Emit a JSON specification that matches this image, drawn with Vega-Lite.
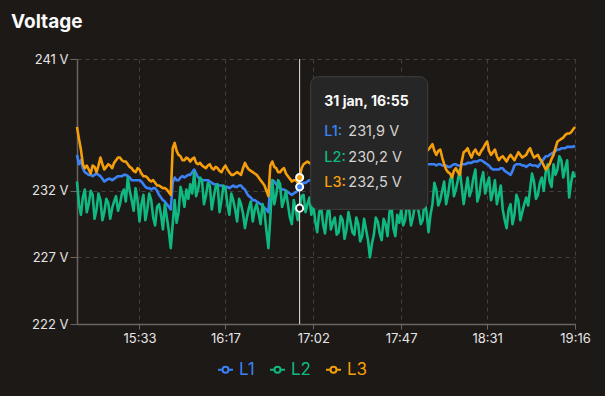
{
  "$schema": "https://vega.github.io/schema/vega-lite/v6.json",
  "width": 498,
  "height": 265,
  "autosize": {"type": "none"},
  "padding": {"left": 77, "top": 59, "right": 30, "bottom": 72},
  "background": "#1c1917",
  "title": {"text": "Voltage", "anchor": "start", "frame": "group", "dx": -66, "offset": 21, "fontSize": 19, "fontWeight": "bold", "color": "#fafafa", "font": "Inter"},
  "config": {"view": {"stroke": null}, "font": "Inter"},
  "datasets": {
    "volt": [
      {"t":"2024-01-31T15:01","L1":234.7,"L2":232.7,"L3":236.8},
      {"t":"2024-01-31T15:02","L1":234.0,"L2":231.0,"L3":235.9},
      {"t":"2024-01-31T15:03","L1":234.3,"L2":230.2,"L3":235.1},
      {"t":"2024-01-31T15:04","L1":233.7,"L2":231.5,"L3":234.0},
      {"t":"2024-01-31T15:05","L1":233.4,"L2":232.1,"L3":233.7},
      {"t":"2024-01-31T15:06","L1":233.3,"L2":230.4,"L3":233.9},
      {"t":"2024-01-31T15:07","L1":233.2,"L2":231.0,"L3":233.6},
      {"t":"2024-01-31T15:08","L1":233.2,"L2":232.0,"L3":233.3},
      {"t":"2024-01-31T15:09","L1":233.1,"L2":231.7,"L3":233.9},
      {"t":"2024-01-31T15:10","L1":233.2,"L2":229.9,"L3":233.8},
      {"t":"2024-01-31T15:11","L1":233.3,"L2":230.6,"L3":233.4},
      {"t":"2024-01-31T15:12","L1":233.2,"L2":231.8,"L3":233.9},
      {"t":"2024-01-31T15:13","L1":233.1,"L2":231.3,"L3":234.5},
      {"t":"2024-01-31T15:14","L1":232.9,"L2":229.8,"L3":234.0},
      {"t":"2024-01-31T15:15","L1":232.7,"L2":230.4,"L3":233.6},
      {"t":"2024-01-31T15:16","L1":232.8,"L2":231.4,"L3":233.8},
      {"t":"2024-01-31T15:17","L1":232.9,"L2":231.1,"L3":234.0},
      {"t":"2024-01-31T15:18","L1":232.9,"L2":229.9,"L3":233.9},
      {"t":"2024-01-31T15:19","L1":232.8,"L2":230.7,"L3":233.7},
      {"t":"2024-01-31T15:20","L1":232.9,"L2":231.2,"L3":234.1},
      {"t":"2024-01-31T15:21","L1":233.0,"L2":231.6,"L3":234.3},
      {"t":"2024-01-31T15:22","L1":233.1,"L2":230.5,"L3":234.5},
      {"t":"2024-01-31T15:23","L1":233.1,"L2":231.0,"L3":234.5},
      {"t":"2024-01-31T15:24","L1":233.1,"L2":231.8,"L3":234.3},
      {"t":"2024-01-31T15:25","L1":233.2,"L2":232.1,"L3":234.2},
      {"t":"2024-01-31T15:26","L1":233.2,"L2":231.2,"L3":234.2},
      {"t":"2024-01-31T15:27","L1":233.1,"L2":233.0,"L3":234.0},
      {"t":"2024-01-31T15:28","L1":233.0,"L2":232.0,"L3":233.8},
      {"t":"2024-01-31T15:29","L1":232.8,"L2":231.3,"L3":233.7},
      {"t":"2024-01-31T15:30","L1":232.8,"L2":230.5,"L3":233.5},
      {"t":"2024-01-31T15:31","L1":232.8,"L2":232.2,"L3":233.4},
      {"t":"2024-01-31T15:32","L1":232.8,"L2":231.3,"L3":233.7},
      {"t":"2024-01-31T15:33","L1":232.8,"L2":229.7,"L3":233.6},
      {"t":"2024-01-31T15:34","L1":232.7,"L2":231.0,"L3":233.3},
      {"t":"2024-01-31T15:35","L1":232.5,"L2":231.7,"L3":233.1},
      {"t":"2024-01-31T15:36","L1":232.3,"L2":229.8,"L3":233.1},
      {"t":"2024-01-31T15:37","L1":232.2,"L2":230.6,"L3":233.0},
      {"t":"2024-01-31T15:38","L1":232.2,"L2":231.8,"L3":232.8},
      {"t":"2024-01-31T15:39","L1":232.1,"L2":231.3,"L3":232.7},
      {"t":"2024-01-31T15:40","L1":232.2,"L2":230.0,"L3":232.8},
      {"t":"2024-01-31T15:41","L1":232.2,"L2":229.4,"L3":232.6},
      {"t":"2024-01-31T15:42","L1":232.0,"L2":230.8,"L3":232.4},
      {"t":"2024-01-31T15:43","L1":231.7,"L2":231.0,"L3":232.4},
      {"t":"2024-01-31T15:44","L1":231.5,"L2":230.2,"L3":232.3},
      {"t":"2024-01-31T15:45","L1":231.3,"L2":229.1,"L3":232.2},
      {"t":"2024-01-31T15:46","L1":231.2,"L2":231.0,"L3":232.2},
      {"t":"2024-01-31T15:47","L1":231.0,"L2":230.0,"L3":232.1},
      {"t":"2024-01-31T15:48","L1":230.8,"L2":229.0,"L3":231.9},
      {"t":"2024-01-31T15:49","L1":230.6,"L2":227.7,"L3":231.7},
      {"t":"2024-01-31T15:50","L1":232.6,"L2":229.5,"L3":235.2},
      {"t":"2024-01-31T15:51","L1":233.0,"L2":231.3,"L3":235.6},
      {"t":"2024-01-31T15:52","L1":232.8,"L2":229.6,"L3":235.0},
      {"t":"2024-01-31T15:53","L1":232.8,"L2":230.4,"L3":234.7},
      {"t":"2024-01-31T15:54","L1":233.0,"L2":232.3,"L3":234.6},
      {"t":"2024-01-31T15:55","L1":233.1,"L2":231.7,"L3":234.3},
      {"t":"2024-01-31T15:56","L1":233.0,"L2":230.8,"L3":234.3},
      {"t":"2024-01-31T15:57","L1":233.1,"L2":232.1,"L3":234.5},
      {"t":"2024-01-31T15:58","L1":233.2,"L2":231.4,"L3":234.4},
      {"t":"2024-01-31T15:59","L1":233.2,"L2":232.5,"L3":234.2},
      {"t":"2024-01-31T16:00","L1":233.4,"L2":231.8,"L3":234.4},
      {"t":"2024-01-31T16:01","L1":233.6,"L2":233.4,"L3":234.5},
      {"t":"2024-01-31T16:02","L1":233.3,"L2":231.6,"L3":234.1},
      {"t":"2024-01-31T16:03","L1":233.0,"L2":232.1,"L3":234.0},
      {"t":"2024-01-31T16:04","L1":232.9,"L2":233.0,"L3":234.1},
      {"t":"2024-01-31T16:05","L1":232.8,"L2":232.8,"L3":233.9},
      {"t":"2024-01-31T16:06","L1":232.8,"L2":231.0,"L3":233.8},
      {"t":"2024-01-31T16:07","L1":232.8,"L2":231.6,"L3":233.7},
      {"t":"2024-01-31T16:08","L1":232.8,"L2":232.6,"L3":233.9},
      {"t":"2024-01-31T16:09","L1":232.7,"L2":232.4,"L3":234.0},
      {"t":"2024-01-31T16:10","L1":232.6,"L2":230.6,"L3":233.7},
      {"t":"2024-01-31T16:11","L1":232.5,"L2":231.5,"L3":233.6},
      {"t":"2024-01-31T16:12","L1":232.5,"L2":232.3,"L3":233.8},
      {"t":"2024-01-31T16:13","L1":232.4,"L2":232.5,"L3":233.7},
      {"t":"2024-01-31T16:14","L1":232.4,"L2":230.4,"L3":233.5},
      {"t":"2024-01-31T16:15","L1":232.4,"L2":231.3,"L3":233.4},
      {"t":"2024-01-31T16:16","L1":232.3,"L2":232.4,"L3":233.7},
      {"t":"2024-01-31T16:17","L1":232.3,"L2":232.2,"L3":233.9},
      {"t":"2024-01-31T16:18","L1":232.3,"L2":231.0,"L3":233.6},
      {"t":"2024-01-31T16:19","L1":232.2,"L2":230.2,"L3":233.4},
      {"t":"2024-01-31T16:20","L1":232.3,"L2":231.8,"L3":233.2},
      {"t":"2024-01-31T16:21","L1":232.4,"L2":231.3,"L3":233.2},
      {"t":"2024-01-31T16:22","L1":232.3,"L2":230.6,"L3":233.3},
      {"t":"2024-01-31T16:23","L1":232.3,"L2":229.7,"L3":233.4},
      {"t":"2024-01-31T16:24","L1":232.4,"L2":231.4,"L3":233.3},
      {"t":"2024-01-31T16:25","L1":232.4,"L2":231.0,"L3":233.2},
      {"t":"2024-01-31T16:26","L1":232.2,"L2":230.3,"L3":233.7},
      {"t":"2024-01-31T16:27","L1":232.1,"L2":229.2,"L3":234.1},
      {"t":"2024-01-31T16:28","L1":231.8,"L2":230.0,"L3":233.8},
      {"t":"2024-01-31T16:29","L1":231.6,"L2":230.7,"L3":233.6},
      {"t":"2024-01-31T16:30","L1":231.5,"L2":231.2,"L3":233.5},
      {"t":"2024-01-31T16:31","L1":231.3,"L2":229.7,"L3":233.4},
      {"t":"2024-01-31T16:32","L1":231.3,"L2":230.6,"L3":233.3},
      {"t":"2024-01-31T16:33","L1":231.2,"L2":231.0,"L3":233.2},
      {"t":"2024-01-31T16:34","L1":231.1,"L2":230.3,"L3":233.0},
      {"t":"2024-01-31T16:35","L1":231.0,"L2":229.5,"L3":232.8},
      {"t":"2024-01-31T16:36","L1":230.9,"L2":231.0,"L3":232.6},
      {"t":"2024-01-31T16:37","L1":230.7,"L2":230.4,"L3":232.4},
      {"t":"2024-01-31T16:38","L1":230.6,"L2":229.0,"L3":232.0},
      {"t":"2024-01-31T16:39","L1":230.4,"L2":227.7,"L3":231.6},
      {"t":"2024-01-31T16:40","L1":232.5,"L2":230.0,"L3":233.9},
      {"t":"2024-01-31T16:41","L1":232.8,"L2":232.8,"L3":234.2},
      {"t":"2024-01-31T16:42","L1":232.7,"L2":231.0,"L3":233.8},
      {"t":"2024-01-31T16:43","L1":232.5,"L2":231.7,"L3":233.7},
      {"t":"2024-01-31T16:44","L1":232.3,"L2":232.8,"L3":233.4},
      {"t":"2024-01-31T16:45","L1":232.2,"L2":232.5,"L3":233.4},
      {"t":"2024-01-31T16:46","L1":232.1,"L2":230.8,"L3":233.6},
      {"t":"2024-01-31T16:47","L1":232.1,"L2":231.3,"L3":233.7},
      {"t":"2024-01-31T16:48","L1":232.0,"L2":232.0,"L3":233.3},
      {"t":"2024-01-31T16:49","L1":231.9,"L2":231.0,"L3":233.1},
      {"t":"2024-01-31T16:50","L1":231.8,"L2":230.0,"L3":232.9},
      {"t":"2024-01-31T16:51","L1":231.7,"L2":229.5,"L3":232.7},
      {"t":"2024-01-31T16:52","L1":231.8,"L2":231.3,"L3":232.8},
      {"t":"2024-01-31T16:53","L1":231.9,"L2":230.6,"L3":232.8},
      {"t":"2024-01-31T16:54","L1":232.0,"L2":229.8,"L3":232.6},
      {"t":"2024-01-31T16:55","L1":232.3,"L2":230.7,"L3":233.0},
      {"t":"2024-01-31T16:56","L1":232.5,"L2":231.6,"L3":233.7},
      {"t":"2024-01-31T16:57","L1":232.6,"L2":231.7,"L3":234.0},
      {"t":"2024-01-31T16:58","L1":232.6,"L2":230.4,"L3":234.1},
      {"t":"2024-01-31T16:59","L1":232.7,"L2":231.0,"L3":234.2},
      {"t":"2024-01-31T17:00","L1":232.8,"L2":231.5,"L3":234.1},
      {"t":"2024-01-31T17:01","L1":232.8,"L2":230.2,"L3":234.0},
      {"t":"2024-01-31T17:02","L1":232.8,"L2":231.0,"L3":234.0},
      {"t":"2024-01-31T17:03","L1":232.8,"L2":229.7,"L3":234.1},
      {"t":"2024-01-31T17:04","L1":232.8,"L2":228.9,"L3":234.0},
      {"t":"2024-01-31T17:05","L1":232.8,"L2":230.4,"L3":233.9},
      {"t":"2024-01-31T17:06","L1":232.8,"L2":230.8,"L3":233.9},
      {"t":"2024-01-31T17:07","L1":232.8,"L2":229.5,"L3":234.0},
      {"t":"2024-01-31T17:08","L1":232.7,"L2":228.8,"L3":233.8},
      {"t":"2024-01-31T17:09","L1":232.7,"L2":230.2,"L3":233.7},
      {"t":"2024-01-31T17:10","L1":232.8,"L2":230.9,"L3":233.9},
      {"t":"2024-01-31T17:11","L1":232.8,"L2":229.1,"L3":234.0},
      {"t":"2024-01-31T17:12","L1":232.8,"L2":229.6,"L3":233.9},
      {"t":"2024-01-31T17:13","L1":232.8,"L2":230.0,"L3":233.8},
      {"t":"2024-01-31T17:14","L1":232.9,"L2":228.7,"L3":233.9},
      {"t":"2024-01-31T17:15","L1":232.9,"L2":228.9,"L3":234.0},
      {"t":"2024-01-31T17:16","L1":232.9,"L2":230.1,"L3":234.0},
      {"t":"2024-01-31T17:17","L1":232.8,"L2":229.8,"L3":233.9},
      {"t":"2024-01-31T17:18","L1":232.8,"L2":228.4,"L3":233.8},
      {"t":"2024-01-31T17:19","L1":232.8,"L2":229.1,"L3":233.7},
      {"t":"2024-01-31T17:20","L1":232.8,"L2":230.4,"L3":233.9},
      {"t":"2024-01-31T17:21","L1":232.8,"L2":229.7,"L3":234.0},
      {"t":"2024-01-31T17:22","L1":232.8,"L2":228.9,"L3":233.9},
      {"t":"2024-01-31T17:23","L1":232.8,"L2":228.7,"L3":233.8},
      {"t":"2024-01-31T17:24","L1":232.9,"L2":230.0,"L3":233.9},
      {"t":"2024-01-31T17:25","L1":232.9,"L2":229.5,"L3":234.0},
      {"t":"2024-01-31T17:26","L1":233.0,"L2":228.2,"L3":234.0},
      {"t":"2024-01-31T17:27","L1":233.0,"L2":228.6,"L3":233.9},
      {"t":"2024-01-31T17:28","L1":233.0,"L2":229.9,"L3":234.0},
      {"t":"2024-01-31T17:29","L1":233.1,"L2":229.1,"L3":234.1},
      {"t":"2024-01-31T17:30","L1":233.1,"L2":228.3,"L3":234.1},
      {"t":"2024-01-31T17:31","L1":233.1,"L2":227.0,"L3":234.0},
      {"t":"2024-01-31T17:32","L1":233.2,"L2":228.0,"L3":234.1},
      {"t":"2024-01-31T17:33","L1":233.2,"L2":228.7,"L3":234.2},
      {"t":"2024-01-31T17:34","L1":233.2,"L2":230.0,"L3":234.1},
      {"t":"2024-01-31T17:35","L1":233.3,"L2":229.7,"L3":234.0},
      {"t":"2024-01-31T17:36","L1":233.3,"L2":228.8,"L3":234.2},
      {"t":"2024-01-31T17:37","L1":233.4,"L2":228.3,"L3":234.3},
      {"t":"2024-01-31T17:38","L1":233.4,"L2":229.9,"L3":234.2},
      {"t":"2024-01-31T17:39","L1":233.5,"L2":229.5,"L3":234.2},
      {"t":"2024-01-31T17:40","L1":233.5,"L2":228.6,"L3":234.3},
      {"t":"2024-01-31T17:41","L1":233.6,"L2":230.4,"L3":234.5},
      {"t":"2024-01-31T17:42","L1":233.6,"L2":230.9,"L3":234.4},
      {"t":"2024-01-31T17:43","L1":233.7,"L2":229.2,"L3":234.3},
      {"t":"2024-01-31T17:44","L1":233.7,"L2":228.6,"L3":234.5},
      {"t":"2024-01-31T17:45","L1":233.7,"L2":230.2,"L3":234.6},
      {"t":"2024-01-31T17:46","L1":233.7,"L2":229.6,"L3":234.5},
      {"t":"2024-01-31T17:47","L1":233.7,"L2":230.6,"L3":234.4},
      {"t":"2024-01-31T17:48","L1":233.7,"L2":229.4,"L3":234.6},
      {"t":"2024-01-31T17:49","L1":233.8,"L2":229.8,"L3":234.7},
      {"t":"2024-01-31T17:50","L1":233.8,"L2":231.0,"L3":234.6},
      {"t":"2024-01-31T17:51","L1":233.8,"L2":230.7,"L3":234.6},
      {"t":"2024-01-31T17:52","L1":233.8,"L2":229.4,"L3":234.8},
      {"t":"2024-01-31T17:53","L1":233.9,"L2":230.0,"L3":234.9},
      {"t":"2024-01-31T17:54","L1":233.9,"L2":230.9,"L3":234.8},
      {"t":"2024-01-31T17:55","L1":233.9,"L2":231.0,"L3":234.7},
      {"t":"2024-01-31T17:56","L1":233.9,"L2":230.4,"L3":234.8},
      {"t":"2024-01-31T17:57","L1":233.9,"L2":229.5,"L3":234.9},
      {"t":"2024-01-31T17:58","L1":234.0,"L2":229.8,"L3":234.9},
      {"t":"2024-01-31T17:59","L1":234.0,"L2":231.3,"L3":234.8},
      {"t":"2024-01-31T18:00","L1":234.0,"L2":230.4,"L3":235.0},
      {"t":"2024-01-31T18:01","L1":234.0,"L2":228.9,"L3":235.1},
      {"t":"2024-01-31T18:02","L1":234.0,"L2":230.2,"L3":235.3},
      {"t":"2024-01-31T18:03","L1":234.0,"L2":231.0,"L3":235.5},
      {"t":"2024-01-31T18:04","L1":234.0,"L2":232.6,"L3":235.0},
      {"t":"2024-01-31T18:05","L1":233.9,"L2":232.1,"L3":234.7},
      {"t":"2024-01-31T18:06","L1":234.0,"L2":230.9,"L3":235.0},
      {"t":"2024-01-31T18:07","L1":234.0,"L2":231.3,"L3":235.1},
      {"t":"2024-01-31T18:08","L1":233.9,"L2":232.0,"L3":234.5},
      {"t":"2024-01-31T18:09","L1":233.9,"L2":232.7,"L3":234.0},
      {"t":"2024-01-31T18:10","L1":233.9,"L2":231.0,"L3":233.6},
      {"t":"2024-01-31T18:11","L1":233.8,"L2":231.7,"L3":233.4},
      {"t":"2024-01-31T18:12","L1":233.8,"L2":232.8,"L3":233.3},
      {"t":"2024-01-31T18:13","L1":233.9,"L2":233.2,"L3":233.0},
      {"t":"2024-01-31T18:14","L1":234.0,"L2":231.6,"L3":233.5},
      {"t":"2024-01-31T18:15","L1":234.0,"L2":232.1,"L3":233.7},
      {"t":"2024-01-31T18:16","L1":233.9,"L2":232.8,"L3":233.4},
      {"t":"2024-01-31T18:17","L1":233.9,"L2":233.6,"L3":233.2},
      {"t":"2024-01-31T18:18","L1":234.0,"L2":232.3,"L3":234.2},
      {"t":"2024-01-31T18:19","L1":234.0,"L2":231.0,"L3":234.9},
      {"t":"2024-01-31T18:20","L1":234.0,"L2":232.0,"L3":235.0},
      {"t":"2024-01-31T18:21","L1":234.1,"L2":233.0,"L3":235.2},
      {"t":"2024-01-31T18:22","L1":234.1,"L2":231.6,"L3":234.8},
      {"t":"2024-01-31T18:23","L1":234.1,"L2":232.1,"L3":234.5},
      {"t":"2024-01-31T18:24","L1":234.2,"L2":233.0,"L3":234.9},
      {"t":"2024-01-31T18:25","L1":234.2,"L2":233.6,"L3":235.1},
      {"t":"2024-01-31T18:26","L1":234.2,"L2":231.2,"L3":234.8},
      {"t":"2024-01-31T18:27","L1":234.3,"L2":231.7,"L3":234.7},
      {"t":"2024-01-31T18:28","L1":234.3,"L2":232.8,"L3":235.0},
      {"t":"2024-01-31T18:29","L1":234.2,"L2":233.4,"L3":235.2},
      {"t":"2024-01-31T18:30","L1":234.1,"L2":231.8,"L3":235.5},
      {"t":"2024-01-31T18:31","L1":234.0,"L2":232.5,"L3":235.7},
      {"t":"2024-01-31T18:32","L1":233.9,"L2":233.0,"L3":235.0},
      {"t":"2024-01-31T18:33","L1":233.7,"L2":231.3,"L3":234.7},
      {"t":"2024-01-31T18:34","L1":233.6,"L2":231.9,"L3":234.9},
      {"t":"2024-01-31T18:35","L1":233.6,"L2":232.8,"L3":235.1},
      {"t":"2024-01-31T18:36","L1":233.6,"L2":231.0,"L3":234.6},
      {"t":"2024-01-31T18:37","L1":233.6,"L2":231.7,"L3":234.3},
      {"t":"2024-01-31T18:38","L1":233.7,"L2":232.4,"L3":234.5},
      {"t":"2024-01-31T18:39","L1":233.7,"L2":230.6,"L3":234.6},
      {"t":"2024-01-31T18:40","L1":233.5,"L2":229.8,"L3":234.4},
      {"t":"2024-01-31T18:41","L1":233.4,"L2":229.2,"L3":234.2},
      {"t":"2024-01-31T18:42","L1":233.3,"L2":230.6,"L3":234.5},
      {"t":"2024-01-31T18:43","L1":233.2,"L2":231.0,"L3":234.7},
      {"t":"2024-01-31T18:44","L1":233.5,"L2":229.5,"L3":234.5},
      {"t":"2024-01-31T18:45","L1":233.9,"L2":230.2,"L3":234.3},
      {"t":"2024-01-31T18:46","L1":234.0,"L2":231.7,"L3":234.6},
      {"t":"2024-01-31T18:47","L1":234.0,"L2":231.3,"L3":234.9},
      {"t":"2024-01-31T18:48","L1":234.0,"L2":229.8,"L3":234.7},
      {"t":"2024-01-31T18:49","L1":233.9,"L2":230.4,"L3":234.5},
      {"t":"2024-01-31T18:50","L1":233.9,"L2":231.0,"L3":234.6},
      {"t":"2024-01-31T18:51","L1":233.8,"L2":231.5,"L3":234.7},
      {"t":"2024-01-31T18:52","L1":233.9,"L2":230.9,"L3":235.0},
      {"t":"2024-01-31T18:53","L1":234.0,"L2":232.1,"L3":235.2},
      {"t":"2024-01-31T18:54","L1":233.9,"L2":233.3,"L3":234.8},
      {"t":"2024-01-31T18:55","L1":233.9,"L2":232.7,"L3":234.5},
      {"t":"2024-01-31T18:56","L1":233.9,"L2":231.4,"L3":234.6},
      {"t":"2024-01-31T18:57","L1":233.8,"L2":231.7,"L3":234.7},
      {"t":"2024-01-31T18:58","L1":234.0,"L2":232.6,"L3":234.4},
      {"t":"2024-01-31T18:59","L1":234.2,"L2":233.0,"L3":234.2},
      {"t":"2024-01-31T19:00","L1":234.4,"L2":232.0,"L3":233.9},
      {"t":"2024-01-31T19:01","L1":234.6,"L2":233.4,"L3":233.6},
      {"t":"2024-01-31T19:02","L1":234.6,"L2":234.0,"L3":233.8},
      {"t":"2024-01-31T19:03","L1":234.7,"L2":232.7,"L3":234.0},
      {"t":"2024-01-31T19:04","L1":234.8,"L2":232.3,"L3":234.4},
      {"t":"2024-01-31T19:05","L1":234.9,"L2":234.0,"L3":234.7},
      {"t":"2024-01-31T19:06","L1":235.0,"L2":233.2,"L3":235.2},
      {"t":"2024-01-31T19:07","L1":235.1,"L2":233.6,"L3":235.7},
      {"t":"2024-01-31T19:08","L1":235.1,"L2":234.6,"L3":235.8},
      {"t":"2024-01-31T19:09","L1":235.2,"L2":234.3,"L3":235.9},
      {"t":"2024-01-31T19:10","L1":235.2,"L2":233.0,"L3":236.0},
      {"t":"2024-01-31T19:11","L1":235.2,"L2":233.7,"L3":236.2},
      {"t":"2024-01-31T19:12","L1":235.3,"L2":234.3,"L3":236.3},
      {"t":"2024-01-31T19:13","L1":235.3,"L2":231.5,"L3":236.3},
      {"t":"2024-01-31T19:14","L1":235.3,"L2":232.6,"L3":236.4},
      {"t":"2024-01-31T19:15","L1":235.3,"L2":233.4,"L3":236.6},
      {"t":"2024-01-31T19:16","L1":235.4,"L2":233.0,"L3":236.8}
    ],
    "tip": [
      {"series":"L1","label":"L1:","value":"231,9 V"},
      {"series":"L2","label":"L2:","value":"230,2 V"},
      {"series":"L3","label":"L3:","value":"232,5 V"}
    ]
  },
  "layer": [
    {
      "data": {"name": "volt"},
      "transform": [{"fold": ["L1", "L2", "L3"], "as": ["series", "v"]}],
      "mark": {"type": "line", "strokeWidth": 2.6, "strokeJoin": "round"},
      "encoding": {
        "x": {"field": "t", "type": "temporal",
          "scale": {"domain": [{"year":2024,"month":1,"date":31,"hours":15,"minutes":1}, {"year":2024,"month":1,"date":31,"hours":19,"minutes":16}], "nice": false},
          "axis": {"title": null, "format": "%H:%M",
            "values": [{"year":2024,"month":1,"date":31,"hours":15,"minutes":33},{"year":2024,"month":1,"date":31,"hours":16,"minutes":17},{"year":2024,"month":1,"date":31,"hours":17,"minutes":2},{"year":2024,"month":1,"date":31,"hours":17,"minutes":47},{"year":2024,"month":1,"date":31,"hours":18,"minutes":31},{"year":2024,"month":1,"date":31,"hours":19,"minutes":16}],
            "grid": true, "gridDash": [4, 4], "gridColor": "#46413d", "domainColor": "#6b6662", "domainWidth": 1.5, "tickColor": "#6b6662", "tickSize": 5,
            "labelColor": "#e7e5e4", "labelFontSize": 13, "labelFont": "Inter", "labelPadding": 3, "labelFlush": false}},
        "y": {"field": "v", "type": "quantitative",
          "scale": {"domain": [222, 241.9], "nice": false, "zero": false},
          "axis": {"title": null, "values": [222, 227, 232, 241.9], "labelExpr": "floor(datum.value) + ' V'",
            "grid": true, "gridDash": [4, 4], "gridColor": "#46413d", "domainColor": "#6b6662", "domainWidth": 1.5, "tickColor": "#6b6662", "tickSize": 7,
            "labelColor": "#e7e5e4", "labelFontSize": 13, "labelFont": "Inter", "labelPadding": 2}},
        "color": {"field": "series", "type": "nominal",
          "scale": {"domain": ["L1", "L2", "L3"], "range": ["#3b82f6", "#10b981", "#f59e0b"]},
          "legend": {"orient": "none", "legendX": 140, "legendY": 302, "direction": "horizontal", "title": null, "padding": 0,
            "symbolType": "M-1,0H-0.4M0.4,0H1M0.4,0A0.4,0.4,0,1,1,-0.4,0A0.4,0.4,0,1,1,0.4,0", "symbolSize": 225, "symbolStrokeWidth": 2, "symbolFillColor": "#1c1917",
            "labelFontSize": 17, "labelFont": "Inter", "labelOffset": 5, "columnPadding": 11,
            "encode": {"symbols": {"update": {"fill": {"value": "#1c1917"}}}, "labels": {"update": {"fill": {"scale": "color", "field": "value"}}}}}}
      }
    },
    {
      "data": {"values": [{}]},
      "mark": {"type": "rule", "color": "#e7e5e4", "strokeWidth": 1},
      "encoding": {"x": {"datum": {"year":2024,"month":1,"date":31,"hours":16,"minutes":55}, "type": "temporal"}}
    },
    {
      "data": {"name": "volt"},
      "transform": [{"fold": ["L1", "L2", "L3"], "as": ["series", "v"]}, {"filter": {"field": "t", "equal": {"year":2024,"month":1,"date":31,"hours":16,"minutes":55}}}],
      "mark": {"type": "point", "filled": true, "size": 50, "stroke": "#ffffff", "strokeWidth": 2, "opacity": 1},
      "encoding": {
        "x": {"field": "t", "type": "temporal"},
        "y": {"field": "v", "type": "quantitative"},
        "fill": {"condition": [{"test": "datum.series == 'L1'", "value": "#3b82f6"}, {"test": "datum.series == 'L3'", "value": "#f59e0b"}], "value": "#1c1917"}
      }
    },
    {
      "data": {"values": [{}]},
      "mark": {"type": "rect", "cornerRadius": 8, "fill": "#262626", "stroke": "#3f3f3f", "strokeWidth": 1},
      "encoding": {
        "x": {"datum": {"year":2024,"month":1,"date":31,"hours":17,"minutes":0,"seconds":40}, "type": "temporal"},
        "x2": {"datum": {"year":2024,"month":1,"date":31,"hours":18,"minutes":0,"seconds":35}},
        "y": {"datum": 240.57, "type": "quantitative"},
        "y2": {"datum": 230.61}
      }
    },
    {
      "data": {"values": [{"header": "31 jan, 16:55"}]},
      "mark": {"type": "text", "align": "left", "baseline": "alphabetic", "fontSize": 14, "fontWeight": "bold", "color": "#fafafa", "font": "Inter"},
      "encoding": {
        "x": {"datum": {"year":2024,"month":1,"date":31,"hours":17,"minutes":7,"seconds":38}, "type": "temporal"},
        "y": {"datum": 238.37, "type": "quantitative"},
        "text": {"field": "header"}
      }
    },
    {
      "data": {"name": "tip"}, "transform": [{"filter": "datum.series == 'L1'"}],
      "mark": {"type": "text", "align": "left", "baseline": "alphabetic", "fontSize": 14.5, "fontWeight": 500, "color": "#3b82f6", "font": "Inter"},
      "encoding": {"x": {"datum": {"year":2024,"month":1,"date":31,"hours":17,"minutes":7,"seconds":38}, "type": "temporal"}, "y": {"datum": 236.12, "type": "quantitative"}, "text": {"field": "label"}}
    },
    {
      "data": {"name": "tip"}, "transform": [{"filter": "datum.series == 'L1'"}],
      "mark": {"type": "text", "align": "left", "baseline": "alphabetic", "fontSize": 14.5, "color": "#d6d3d1", "font": "Inter"},
      "encoding": {"x": {"datum": {"year":2024,"month":1,"date":31,"hours":17,"minutes":19,"seconds":55}, "type": "temporal"}, "y": {"datum": 236.12, "type": "quantitative"}, "text": {"field": "value"}}
    },
    {
      "data": {"name": "tip"}, "transform": [{"filter": "datum.series == 'L2'"}],
      "mark": {"type": "text", "align": "left", "baseline": "alphabetic", "fontSize": 14.5, "fontWeight": 500, "color": "#10b981", "font": "Inter"},
      "encoding": {"x": {"datum": {"year":2024,"month":1,"date":31,"hours":17,"minutes":7,"seconds":38}, "type": "temporal"}, "y": {"datum": 234.2, "type": "quantitative"}, "text": {"field": "label"}}
    },
    {
      "data": {"name": "tip"}, "transform": [{"filter": "datum.series == 'L2'"}],
      "mark": {"type": "text", "align": "left", "baseline": "alphabetic", "fontSize": 14.5, "color": "#d6d3d1", "font": "Inter"},
      "encoding": {"x": {"datum": {"year":2024,"month":1,"date":31,"hours":17,"minutes":19,"seconds":55}, "type": "temporal"}, "y": {"datum": 234.2, "type": "quantitative"}, "text": {"field": "value"}}
    },
    {
      "data": {"name": "tip"}, "transform": [{"filter": "datum.series == 'L3'"}],
      "mark": {"type": "text", "align": "left", "baseline": "alphabetic", "fontSize": 14.5, "fontWeight": 500, "color": "#f59e0b", "font": "Inter"},
      "encoding": {"x": {"datum": {"year":2024,"month":1,"date":31,"hours":17,"minutes":7,"seconds":38}, "type": "temporal"}, "y": {"datum": 232.27, "type": "quantitative"}, "text": {"field": "label"}}
    },
    {
      "data": {"name": "tip"}, "transform": [{"filter": "datum.series == 'L3'"}],
      "mark": {"type": "text", "align": "left", "baseline": "alphabetic", "fontSize": 14.5, "color": "#d6d3d1", "font": "Inter"},
      "encoding": {"x": {"datum": {"year":2024,"month":1,"date":31,"hours":17,"minutes":19,"seconds":55}, "type": "temporal"}, "y": {"datum": 232.27, "type": "quantitative"}, "text": {"field": "value"}}
    }
  ]
}
